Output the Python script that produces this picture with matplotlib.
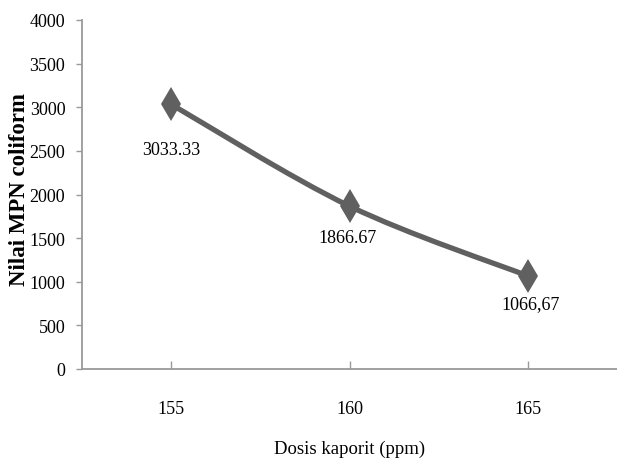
import matplotlib
matplotlib.use("Agg")
import matplotlib.pyplot as plt
from matplotlib.path import Path
from matplotlib.patches import PathPatch
import numpy as np

# data
dosis = ["155", "160", "165"]
mpn = [3033.33, 1866.67, 1066.67]
point_labels = ["3033.33", "1866.67", "1066,67"]
label_offsets = [(0, -45), (-2, -31), (3, -28)]  # pixels, label centre vs point

plt.rcParams['font.family'] = ['Liberation Serif', 'DejaVu Serif']

line_col = "#606060"
axis_col = "#9a9a9a"

fig = plt.figure(figsize=(6.17, 4.64), dpi=100)
ax = fig.add_axes([82 / 617, 94 / 464, 535 / 617, 349 / 464])

x = np.arange(len(dosis))
y = np.array(mpn)

# smoothed line like the spreadsheet "smooth line" option (bezier through the points)
pts = np.column_stack([x, y])
ext = np.vstack([pts[0], pts, pts[-1]])
verts = [pts[0]]
codes = [Path.MOVETO]
for i in range(len(pts) - 1):
    p0, p1, p2, p3 = ext[i], ext[i + 1], ext[i + 2], ext[i + 3]
    c1 = p1 + (p2 - p0) / 6
    c2 = p2 - (p3 - p1) / 6
    verts += [c1, c2, p2]
    codes += [Path.CURVE4] * 3
ax.add_patch(PathPatch(Path(verts, codes), facecolor="none", edgecolor=line_col,
                       lw=3.8, capstyle="round", joinstyle="round", zorder=2))
ax.plot(x, y, linestyle="none", marker="d", markersize=17, color=line_col,
        markeredgewidth=0, zorder=3)

for xi, yi, lab, off in zip(x, y, point_labels, label_offsets):
    ax.annotate(lab, (xi, yi), xytext=off, textcoords="offset pixels",
                ha="center", va="center", fontsize=13, color="black")

ax.set_xlim(-0.5, 2.5)
ax.set_ylim(0, 4000)
ax.set_yticks(np.arange(0, 4001, 500))
ax.set_xticks(x)
ax.set_xticklabels(dosis)

for s in ["top", "right"]:
    ax.spines[s].set_visible(False)
for s in ["left", "bottom"]:
    ax.spines[s].set_color(axis_col)
    ax.spines[s].set_linewidth(1.3)

ax.tick_params(axis="x", direction="in", length=6, width=1, color=axis_col,
               pad=22, labelsize=13)
ax.tick_params(axis="y", direction="out", length=4, width=1, color=axis_col,
               pad=8, labelsize=13)

ax.set_xlabel("Dosis kaporit (ppm)", fontsize=13.5, labelpad=17)
fig.text(20 / 617, 1 - 190 / 464, "Nilai MPN coliform", rotation=90,
         ha="center", va="center", fontsize=16.5, fontweight="bold")

fig.savefig("out.png", dpi=100)
